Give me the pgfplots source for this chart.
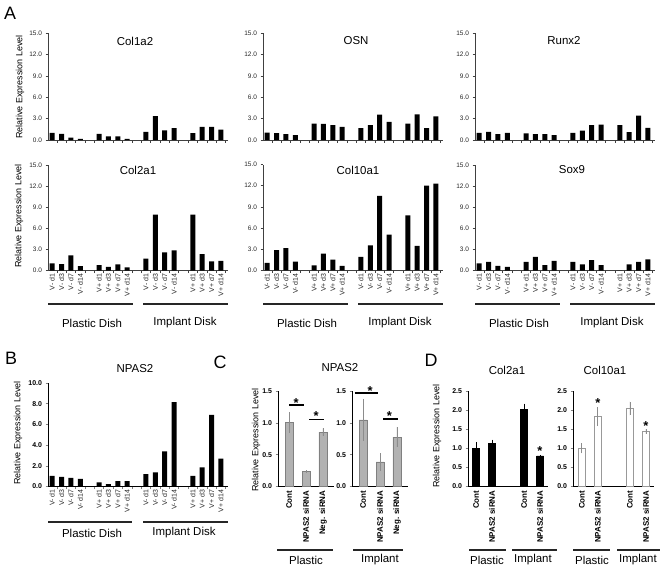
\documentclass[border=0pt]{standalone}
\usepackage{pgfplots}
\pgfplotsset{compat=1.18}
\usepackage{fontspec}
\setmainfont{Liberation Sans}

\pgfplotsset{
  common/.style={
    scale only axis, anchor=south west,
    axis x line*=bottom, axis y line*=left,
    ybar, bar shift=0pt, clip=false, ymin=0,
    enlargelimits=false,
    tick align=outside, major tick length=2.5bp, minor tick length=2.5bp,
    tick style={line width=0.6bp},
    axis line style={line width=0.7bp},
    yticklabel style={/pgf/number format/fixed, /pgf/number format/fixed zerofill, /pgf/number format/precision=1, /pgf/number format/assume math mode=true},
  },
  Apanel/.style={
    common, width=180bp, xmin=-0.45, xmax=18.75, ymax=15, ytick={0,3,...,15},
    bar width=5bp,
    axis line style={black!75}, tick style={black!75},
    xtick={-0.5,0.5,...,18.5}, xticklabels={},
    yticklabel style={font=\fontsize{6.5}{7}\selectfont, text=black!85},
  },
  Vlabels/.style={
    extra x ticks={0,1,2,3,5,6,7,8,10,11,12,13,15,16,17,18},
    extra x tick labels={V- d1,V- d3,V- d7,V- d14,V+ d1,V+ d3,V+ d7,V+ d14,V- d1,V- d3,V- d7,V- d14,V+ d1,V+ d3,V+ d7,V+ d14},
    extra x tick style={major tick length=0pt,
      tick label style={rotate=90, anchor=east, inner xsep=3bp, font=\fontsize{7}{7}\selectfont, text=black!85}},
  },
  Atop/.style={Apanel, height=107bp},
  Abot/.style={Apanel, Vlabels, height=105.7bp},
  boldticks/.style={
    yticklabel style={font=\fontsize{7}{8}\selectfont\bfseries},
  },
  catlabels/.style={xtick=\empty, extra x ticks={#1},
    extra x tick style={major tick length=0pt,
      tick label style={rotate=90, anchor=east, inner xsep=4bp, font=\fontsize{8}{8}\selectfont\bfseries}}},
  Cpanel/.style={common, boldticks, width=56bp, height=95.5bp, xmin=-0.65, xmax=2.65,
    ymax=1.5, ytick={0,0.5,1,1.5}, bar width=8bp, catlabels={0,1,2},
    extra x tick labels={Cont,NPAS2 siRNA,Neg. siRNA}},
  Dpanel/.style={common, boldticks, height=95.5bp, xmax=4.5,
    ymax=2.5, ytick={0,0.5,...,2.5}, bar width=7bp, catlabels={0,1,3,4},
    extra x tick labels={Cont,NPAS2 siRNA,Cont,NPAS2 siRNA}},
}
\tikzset{
  ttl/.style={font=\fontsize{11.5}{12}\selectfont},
  grp/.style={font=\fontsize{11.5}{12}\selectfont},
  yl/.style={rotate=90, font=\fontsize{9}{10}\selectfont},
  let/.style={font=\fontsize{18}{18}\selectfont},
  gline/.style={line width=1.6bp, black!85},
  star/.style={anchor=base, yshift=-7.5bp, font=\fontsize{13}{13}\selectfont\bfseries},
}

\begin{document}
\begin{tikzpicture}
\useasboundingbox (0,0) rectangle (662bp,-570bp);

% ---------- Panel A, top row ----------
\begin{axis}[Atop, at={(48bp,-140bp)}]
\addplot[fill=black, draw=none] coordinates {(0,1.0) (1,0.85) (2,0.35) (3,0.15) (5,0.85) (6,0.5) (7,0.5) (8,0.15) (10,1.15) (11,3.35) (12,1.35) (13,1.65) (15,0.95) (16,1.85) (17,1.85) (18,1.45)};
\end{axis}
\begin{axis}[Atop, at={(263bp,-140bp)}]
\addplot[fill=black, draw=none] coordinates {(0,1.05) (1,0.95) (2,0.83) (3,0.68) (5,2.3) (6,2.25) (7,2.08) (8,1.85) (10,1.65) (11,2.08) (12,3.55) (13,2.55) (15,2.3) (16,3.6) (17,1.65) (18,3.3)};
\end{axis}
\begin{axis}[Atop, at={(475bp,-140bp)}]
\addplot[fill=black, draw=none] coordinates {(0,1.0) (1,1.15) (2,0.83) (3,1.0) (5,0.92) (6,0.83) (7,0.83) (8,0.7) (10,1.0) (11,1.3) (12,2.08) (13,2.17) (15,2.08) (16,1.1) (17,3.4) (18,1.7)};
\end{axis}

% ---------- Panel A, bottom row ----------
\begin{axis}[Abot, at={(48bp,-270.7bp)}]
\addplot[fill=black, draw=none] coordinates {(0,1.03) (1,0.94) (2,2.16) (3,0.66) (5,0.8) (6,0.56) (7,0.9) (8,0.47) (10,1.73) (11,7.95) (12,2.6) (13,2.9) (15,7.95) (16,2.34) (17,1.31) (18,1.4)};
\end{axis}
\begin{axis}[Abot, at={(263bp,-270.3bp)}]
\addplot[fill=black, draw=none] coordinates {(0,1.05) (1,2.86) (2,3.14) (3,1.24) (5,0.71) (6,2.38) (7,1.5) (8,0.62) (10,1.9) (11,3.55) (12,10.55) (13,5.05) (15,7.8) (16,3.48) (17,12.0) (18,12.3)};
\end{axis}
\begin{axis}[Abot, at={(475bp,-270.7bp)}]
\addplot[fill=black, draw=none] coordinates {(0,1.03) (1,1.27) (2,0.7) (3,0.56) (5,1.27) (6,1.97) (7,0.8) (8,1.4) (10,1.27) (11,0.9) (12,1.5) (13,0.8) (15,0) (16,0.9) (17,1.27) (18,1.6)};
\end{axis}

% ---------- Panel B ----------
\begin{axis}[common, boldticks, Vlabels, at={(48bp,-486.5bp)}, width=180bp, height=103.5bp,
  xmin=-0.45, xmax=18.75, ymax=10, ytick={0,2,...,10}, bar width=5bp,
  xtick={-0.5,0.5,...,18.5}, xticklabels={}]
\addplot[fill=black, draw=none] coordinates {(0,1.02) (1,0.92) (2,0.83) (3,0.73) (5,0.41) (6,0.22) (7,0.51) (8,0.51) (10,1.2) (11,1.37) (12,3.4) (13,8.15) (15,1.02) (16,1.84) (17,6.92) (18,2.7)};
\end{axis}

% ---------- Panel C ----------
\begin{axis}[Cpanel, at={(278bp,-486.5bp)}]
\addplot[fill=black!30, draw=black!50, line width=0.6bp,
  error bars/.cd, y dir=both, y explicit, error mark=none,
  error bar style={black!45, line width=0.8bp}]
  coordinates {(0,1.005) +- (0,0.16) (1,0.234) +- (0,0.025) (2,0.854) +- (0,0.06)};
\draw[line width=1.5bp] (axis cs:0,1.277) -- (axis cs:0.9,1.277);
\node[star] at (axis cs:0.42,1.36) {*};
\draw[line width=1.5bp] (axis cs:1.2,1.05) -- (axis cs:2.08,1.05);
\node[star] at (axis cs:1.6,1.15) {*};
\end{axis}
\begin{axis}[Cpanel, at={(352bp,-486.5bp)}]
\addplot[fill=black!30, draw=black!50, line width=0.6bp,
  error bars/.cd, y dir=both, y explicit, error mark=none,
  error bar style={black!45, line width=0.8bp}]
  coordinates {(0,1.047) +- (0,0.33) (1,0.385) +- (0,0.135) (2,0.776) +- (0,0.155)};
\draw[line width=1.5bp] (axis cs:-0.5,1.47) -- (axis cs:0.9,1.47);
\node[star] at (axis cs:0.42,1.55) {*};
\draw[line width=1.5bp] (axis cs:1.2,1.06) -- (axis cs:2.08,1.06);
\node[star] at (axis cs:1.55,1.16) {*};
\end{axis}

% ---------- Panel D ----------
\begin{axis}[Dpanel, at={(468bp,-486.5bp)}, width=80bp, xmin=-0.5]
\addplot[fill=black, draw=black, line width=0.6bp,
  error bars/.cd, y dir=both, y explicit, error mark=none,
  error bar style={black, line width=0.8bp}]
  coordinates {(0,1.0) +- (0,0.17) (1,1.13) +- (0,0.1) (3,2.02) +- (0,0.15) (4,0.8) +- (0,0.03)};
\node[star] at (axis cs:4,1.01) {*};
\end{axis}
\begin{axis}[Dpanel, at={(573bp,-486.5bp)}, width=81bp, xmin=-0.55]
\addplot[fill=white, draw=black!40, line width=0.7bp,
  error bars/.cd, y dir=both, y explicit, error mark=none,
  error bar style={black!45, line width=0.8bp}]
  coordinates {(0,1.0) +- (0,0.13) (1,1.83) +- (0,0.25) (3,2.04) +- (0,0.18) (4,1.44) +- (0,0.06)};
\node[star] at (axis cs:1,2.26) {*};
\node[star] at (axis cs:4,1.67) {*};
\end{axis}

% ---------- Texts ----------
\node[let] at (10bp,-13.5bp) {A};
\node[let] at (11bp,-358bp) {B};
\node[let] at (220bp,-362bp) {C};
\node[let] at (431bp,-360bp) {D};

\node[ttl] at (135bp,-41bp) {Col1a2};
\node[ttl] at (356bp,-41bp) {OSN};
\node[ttl] at (564bp,-41bp) {Runx2};
\node[ttl] at (138bp,-170bp) {Col2a1};
\node[ttl] at (358bp,-170bp) {Col10a1};
\node[ttl] at (572bp,-170bp) {Sox9};
\node[ttl] at (135bp,-369bp) {NPAS2};
\node[ttl] at (340bp,-368bp) {NPAS2};
\node[ttl] at (507bp,-370bp) {Col2a1};
\node[ttl] at (605bp,-370bp) {Col10a1};

\node[yl] at (20bp,-87bp) {Relative Expression Level};
\node[yl] at (19bp,-216bp) {Relative Expression Level};
\node[yl] at (18bp,-433bp) {Relative Expression Level};
\node[yl] at (256bp,-440bp) {Relative Expression Level};
\node[yl] at (437bp,-436bp) {Relative Expression Level};

% group lines and labels, panel A
\foreach \xo in {48,263,475}{
  \draw[gline] (\xo bp,-304bp) -- ({(\xo+85)*1bp},-304bp);
  \draw[gline] ({(\xo+95)*1bp},-304bp) -- ({(\xo+180)*1bp},-304bp);
  \node[grp] at ({(\xo+44)*1bp},-323bp) {Plastic Dish};
  \node[grp] at ({(\xo+137)*1bp},-323bp) {Implant Disk};
}
% panel B
\draw[gline] (48bp,-522bp) -- (132bp,-522bp);
\draw[gline] (143bp,-522bp) -- (228bp,-522bp);
\node[grp] at (92bp,-533bp) {Plastic Dish};
\node[grp] at (184bp,-533bp) {Implant Disk};
% panel C
\draw[gline] (277bp,-550bp) -- (333bp,-550bp);
\draw[gline] (353bp,-550bp) -- (403bp,-550bp);
\node[grp] at (306bp,-560bp) {Plastic};
\node[grp] at (380bp,-560bp) {Implant};
% panel D
\draw[gline] (469bp,-550bp) -- (506bp,-550bp);
\draw[gline] (512bp,-550bp) -- (557bp,-550bp);
\draw[gline] (573bp,-550bp) -- (610bp,-550bp);
\draw[gline] (617bp,-550bp) -- (660bp,-550bp);
\node[grp] at (487bp,-560bp) {Plastic};
\node[grp] at (533bp,-560bp) {Implant};
\node[grp] at (592bp,-560bp) {Plastic};
\node[grp] at (638bp,-560bp) {Implant};
\end{tikzpicture}
\end{document}
